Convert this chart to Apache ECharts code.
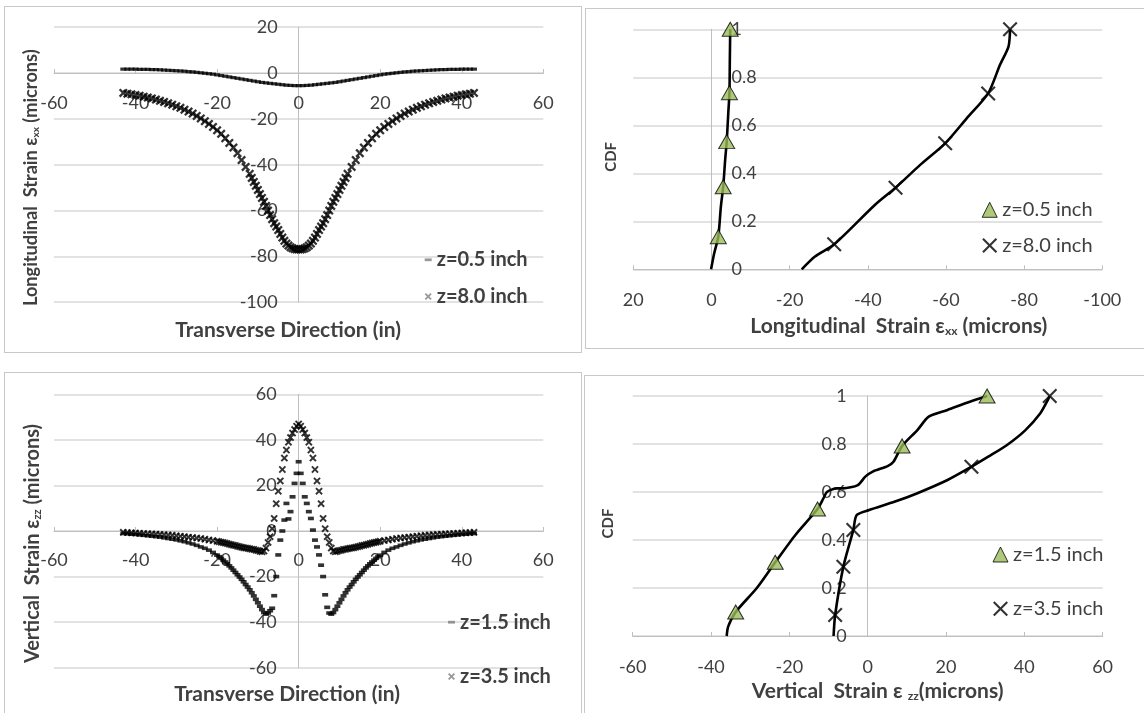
<!DOCTYPE html>
<html><head><meta charset="utf-8">
<script src="https://cdn.jsdelivr.net/npm/echarts@6/dist/echarts.min.js"></script>
<style>
html,body{margin:0;padding:0;background:#fff;}
body{width:1144px;height:713px;position:relative;overflow:hidden;}
.p{position:absolute;}
.b{position:absolute;border:1px solid #c8c8c8;box-sizing:border-box;pointer-events:none;}
</style></head><body>
<div class="p" id="tl" style="left:4px;top:6px;width:578px;height:347px"></div>
<div class="b" style="left:4px;top:6px;width:578px;height:347px"></div>
<div class="p" id="tr" style="left:585px;top:8px;width:559px;height:341px"></div>
<div class="b" style="left:585px;top:8px;width:600px;height:341px"></div>
<div class="p" id="bl" style="left:4px;top:372px;width:578px;height:341px"></div>
<div class="b" style="left:4px;top:372px;width:578px;height:400px"></div>
<div class="p" id="br" style="left:584px;top:375px;width:560px;height:338px"></div>
<div class="b" style="left:584px;top:375px;width:600px;height:400px"></div>
<script>
// ---------------- DATA ----------------
// Top-left: longitudinal strain vs transverse position
const tlX05 = [-43,-42,-41,-40,-39,-38,-37,-36,-35,-34,-33,-32,-31,-30,-29,-28,-27,-26,-25,-24,-23,-22,-21,-20,-19,-18,-17,-16,-15,-14,-13,-12,-11,-10,-9,-8,-7,-6,-5,-4,-3,-2,-1,0,1,2,3,4,5,6,7,8,9,10,11,12,13,14,15,16,17,18,19,20,21,22,23,24,25,26,27,28,29,30,31,32,33,34,35,36,37,38,39,40,41,42,43];
const tlZ05 = [1.7,1.7,1.7,1.7,1.6,1.6,1.6,1.5,1.5,1.4,1.3,1.2,1.1,1.0,0.9,0.8,0.6,0.5,0.3,0.1,-0.1,-0.3,-0.5,-0.8,-1.1,-1.4,-1.7,-2.0,-2.3,-2.6,-2.9,-3.2,-3.5,-3.8,-4.1,-4.3,-4.5,-4.7,-4.9,-5.1,-5.3,-5.4,-5.5,
  -5.5,
  -5.5,-5.4,-5.3,-5.1,-4.9,-4.7,-4.5,-4.3,-4.1,-3.8,-3.5,-3.2,-2.9,-2.6,-2.3,-2.0,-1.7,-1.4,-1.1,-0.8,-0.5,-0.3,-0.1,0.1,0.3,0.5,0.6,0.8,0.9,1.0,1.1,1.2,1.3,1.4,1.5,1.5,1.6,1.6,1.6,1.7,1.7,1.7,1.7];
const tlX80 = [-43,-42,-41,-40,-39,-38,-37,-36,-35,-34,-33,-32,-31,-30,-29,-28,-27,-26,-25,-24,-23,-22,-21,-20,-19,-18,-17,-16,-15,-14,-13,
  -12,-11.5,-11,-10.5,-10,-9.5,-9,-8.5,-8,-7.5,-7,-6.5,-6,-5.5,-5,-4.5,-4,-3.5,-3,-2.5,-2,-1.5,-1,-0.5,0,0.5,1,1.5,2,2.5,3,3.5,4,4.5,5,5.5,6,6.5,7,7.5,8,8.5,9,9.5,10,10.5,11,11.5,12,
  13,14,15,16,17,18,19,20,21,22,23,24,25,26,27,28,29,30,31,32,33,34,35,36,37,38,39,40,41,42,43];
const tlZ80 = [-8.7,-9.0,-9.3,-9.6,-9.9,-10.3,-10.7,-11.1,-11.6,-12.1,-12.6,-13.2,-13.8,-14.5,-15.2,-16.0,-16.8,-17.7,-18.7,-19.8,-21.0,-22.2,-23.5,-25.0,-26.5,-28.5,-30.5,-32.5,-35.0,-38.0,-41.0,
  -44,-45.8,-47.5,-49.2,-51,-52.8,-54.5,-56.2,-58,-60,-62,-63.8,-65.5,-67,-68.5,-70.2,-71.8,-73.2,-74.4,-75.3,-76,-76.5,-76.8,-77,
  -77,
  -77,-76.8,-76.5,-76,-75.3,-74.4,-73.2,-71.8,-70.2,-68.5,-67,-65.5,-63.8,-62,-60,-58,-56.2,-54.5,-52.8,-51,-49.2,-47.5,-45.8,-44,
  -41.0,-38.0,-35.0,-32.5,-30.5,-28.5,-26.5,-25.0,-23.5,-22.2,-21.0,-19.8,-18.7,-17.7,-16.8,-16.0,-15.2,-14.5,-13.8,-13.2,-12.6,-12.1,-11.6,-11.1,-10.7,-10.3,-9.9,-9.6,-9.3,-9.0,-8.7];

// Bottom-left: vertical strain vs transverse position
const blX = [-43,-42,-41,-40,-39,-38,-37,-36,-35,-34,-33,-32,-31,-30,-29,-28,-27,-26,-25,-24,-23,-22,-21,
  -20,-19.5,-19,-18.5,-18,-17.5,-17,-16.5,-16,-15.5,-15,-14.5,-14,-13.5,-13,-12.5,-12,-11.5,-11,-10.5,
  -10,-9.5,-9,-8.5,-8,-7.5,-7,-6.5,-6,-5.5,-5,-4.5,-4,-3.5,-3,-2.5,-2,-1.5,-1,-0.5,0,0.5,1,1.5,2,2.5,3,3.5,4,4.5,5,5.5,6,6.5,7,7.5,8,8.5,9,9.5,10,
  10.5,11,11.5,12,12.5,13,13.5,14,14.5,15,15.5,16,16.5,17,17.5,18,18.5,19,19.5,20,
  21,22,23,24,25,26,27,28,29,30,31,32,33,34,35,36,37,38,39,40,41,42,43];
const blZ15 = [-1.1,-1.2,-1.4,-1.5,-1.7,-1.9,-2.1,-2.3,-2.5,-2.7,-3.0,-3.3,-3.6,-3.9,-4.3,-4.7,-5.2,-5.7,-6.3,-7.0,-7.6,-8.4,-9.4,
  -10.6,-11.3,-12.0,-12.8,-13.6,-14.4,-15.3,-16.2,-17.2,-18.2,-19.2,-20.2,-21.2,-22.3,-23.5,-24.6,-25.8,-27.1,-28.5,-30,
  -31.5,-33,-34.5,-35.8,-36.5,-36,-35,-33.9,-28.4,-20,-10.5,-4,0,4.8,12.1,5.3,8.5,15,20.9,25.3,
  30.4,
  25.3,20.9,15,12.1,8.5,5.5,0.4,-4,-7,-10.5,-15,-20,-28,-33.5,-36,-36.5,-35.8,-34.5,-33,-31.5,
  -30,-28.5,-27.1,-25.8,-24.6,-23.5,-22.3,-21.2,-20.2,-19.2,-18.2,-17.2,-16.2,-15.3,-14.4,-13.6,-12.8,-12.0,-11.3,-10.6,
  -9.4,-8.4,-7.6,-7.0,-6.3,-5.7,-5.2,-4.7,-4.3,-3.9,-3.6,-3.3,-3.0,-2.7,-2.5,-2.3,-2.1,-1.9,-1.7,-1.5,-1.4,-1.2,-1.1];
const blZ35 = [-0.6,-0.7,-0.8,-0.9,-1.0,-1.1,-1.2,-1.3,-1.4,-1.5,-1.6,-1.8,-1.9,-2.1,-2.3,-2.5,-2.7,-2.9,-3.1,-3.3,-3.6,-3.9,-4.2,
  -4.5,-4.7,-4.9,-5.1,-5.3,-5.5,-5.8,-6.0,-6.2,-6.4,-6.7,-6.9,-7.1,-7.3,-7.5,-7.6,-7.8,-8.0,-8.1,-8.4,
  -8.6,-8.9,-9.1,-8.8,-7.5,-5,-2.5,1,5.5,12,17.5,22,27,32,35.5,39,41,43,44.5,46,
  47,
  46,44.5,43,41,39,35.5,32,27,22,17.5,12,5.5,1,-2.5,-5,-7.5,-8.8,-9.1,-8.9,-8.6,
  -8.4,-8.1,-8.0,-7.8,-7.6,-7.5,-7.3,-7.1,-6.9,-6.7,-6.4,-6.2,-6.0,-5.8,-5.5,-5.3,-5.1,-4.9,-4.7,-4.5,
  -4.2,-3.9,-3.6,-3.3,-3.1,-2.9,-2.7,-2.5,-2.3,-2.1,-1.9,-1.8,-1.6,-1.5,-1.4,-1.3,-1.2,-1.1,-1.0,-0.9,-0.8,-0.7,-0.6];

// Top-right: CDF of longitudinal strain
const trX05 = [0.1,-0.7,-1.75,-2.4,-3.0,-3.5,-3.9,-4.3,-4.6,-4.7,-4.8];
const trC05 = [0,0.067,0.136,0.26,0.344,0.455,0.532,0.65,0.736,0.872,1.0];
const trX05m = [-1.75,-3.0,-3.9,-4.6,-4.8];
const trC05m = [0.136,0.344,0.532,0.736,1.0];
const trX80 = [-23.1,-26.5,-31.4,-41.8,-47.1,-53.4,-59.8,-65.3,-70.8,-73.8,-76,-76.4];
const trC80 = [0,0.053,0.104,0.268,0.34,0.435,0.525,0.629,0.733,0.851,0.928,1.0];
const trX80m = [-31.4,-47.1,-59.8,-70.8,-76.4];
const trC80m = [0.104,0.34,0.525,0.733,1.0];

// Bottom-right: CDF of vertical strain
const brX15 = [-36,-35.6,-33.7,-28.3,-23.6,-18.5,-12.8,-11.3,-10.4,-7.9,-6.3,-2.5,-0.6,1.3,5.1,6.6,8.8,12.7,15.6,20.4,26.1,30.5];
const brC15 = [0,0.04,0.1,0.2,0.307,0.42,0.529,0.573,0.6,0.615,0.615,0.629,0.664,0.685,0.708,0.726,0.792,0.858,0.914,0.942,0.976,1.0];
const brX15m = [-33.7,-23.6,-12.8,8.8,30.5];
const brC15m = [0.1,0.307,0.529,0.792,1.0];
const brX35 = [-8.7,-8.3,-6.2,-3.65,-2.8,0.4,7,12.7,20.4,26.5,30.8,35.6,40.3,44.1,46,46.5];
const brC35 = [0,0.0875,0.289,0.442,0.504,0.525,0.56,0.595,0.65,0.705,0.747,0.796,0.858,0.928,0.983,1.0];
const brX35m = [-8.3,-6.2,-3.65,26.5,46.5];
const brC35m = [0.0875,0.289,0.442,0.705,1.0];

// Names / labels
const nTL = ['z=0.5 inch','z=8.0 inch'];
const nBL = ['z=1.5 inch','z=3.5 inch'];
const xTitleLeft = 'Transverse Direction (in)';
const yTitleTL = 'Longitudinal  Strain ε{s|xx} (microns)';
const yTitleBL = 'Vertical  Strain ε{s|zz} (microns)';
const xTitleTR = 'Longitudinal  Strain ε{s|xx} (microns)';
const xTitleBR = 'Vertical  Strain ε {s|zz}(microns)';
const cdfTitle = 'CDF';

// ---------------- STYLE / BUILD ----------------
const FONT = 'Lato, "Open Sans", sans-serif';
const LBL = '#404040';
const pairs = (xs, ys) => xs.map((x, i) => [x, ys[i]]);
const X_THIN = 'path://M0,18 L18,0 L50,32 L82,0 L100,18 L68,50 L100,82 L82,100 L50,68 L18,100 L0,82 L32,50 Z';
const X_BIG = 'path://M0,10 L10,0 L50,40 L90,0 L100,10 L60,50 L100,90 L90,100 L50,60 L10,100 L0,90 L40,50 Z';
const DASH = 'path://M0,0 L10,0 L10,4 L0,4 Z';

// distance (px) from the axis' own edge of the grid to the value 0
const zeroShift = (len, min, max) => -len * (0 - min) / (max - min);

function axisBase(extra) {
  return Object.assign({
    type: 'value',
    nameMoveOverlap: false,
    axisLine: {show: true, onZero: false, lineStyle: {color: '#bfbfbf', width: 1}},
    axisTick: {show: false},
    axisLabel: {fontFamily: FONT, fontSize: 18, color: LBL},
    splitLine: {show: false},
    nameLocation: 'middle'
  }, extra);
}
function titleStyle(size, pad, extra) {
  return Object.assign({
    fontFamily: FONT, fontSize: size, fontWeight: 'bold', color: LBL, padding: pad, lineHeight: size + 4,
    rich: {s: {fontFamily: FONT, fontSize: Math.round(size * 0.55), fontWeight: 'bold', color: LBL, padding: [Math.round(size * 0.45), 0, 0, 0]}}
  }, extra || {});
}
const gridLines = {show: true, lineStyle: {color: '#d9d9d9', width: 1.5}};
const xTicks = {show: true, inside: true, length: 4, lineStyle: {color: '#bfbfbf'}};

function base() {
  return {animation: false, textStyle: {fontFamily: FONT}};
}

// Top-left
const gTL = {left: 50, top: 21.2, width: 489.3, height: 275};
const optTL = Object.assign(base(), {
  grid: Object.assign({containLabel: false, outerBoundsMode: 'none'}, gTL),
  xAxis: axisBase({min: -60, max: 60, interval: 20, axisTick: xTicks, offset: zeroShift(gTL.height, -100, 20),
    axisLabel: {fontFamily: FONT, fontSize: 18, color: LBL, margin: 21},
    name: xTitleLeft, nameGap: 245, nameTextStyle: titleStyle(21, [0, 21, 0, 0])}),
  yAxis: axisBase({min: -100, max: 20, interval: 20, splitLine: gridLines, offset: zeroShift(gTL.width, -60, 60),
    axisLabel: {fontFamily: FONT, fontSize: 18, color: LBL, margin: 21},
    name: yTitleTL, nameGap: 256, nameTextStyle: titleStyle(18.2, [0, 26, 0, 0])}),
  legend: {orient: 'vertical', left: 415.7, top: 238.8, itemWidth: 7, itemHeight: 7, itemGap: 16.7, selectedMode: false,
    textStyle: {fontFamily: FONT, fontSize: 20, fontWeight: 'bold', color: LBL, lineHeight: 20},
    data: [{name: nTL[0], icon: DASH, itemStyle: {color: '#7f7f7f'}}, {name: nTL[1], icon: X_THIN, itemStyle: {color: '#7f7f7f'}}]},
  series: [
    {name: nTL[0], type: 'scatter', z: 3, data: pairs(tlX05, tlZ05), symbol: 'rect', symbolSize: [6, 3.2], itemStyle: {color: '#000'}},
    {name: nTL[1], type: 'scatter', z: 2, data: pairs(tlX80, tlZ80), symbol: X_THIN, symbolSize: 9, itemStyle: {color: '#000'}}
  ]
});

// Bottom-left
const gBL = {left: 50, top: 22.3, width: 489.3, height: 273.4};
const optBL = Object.assign(base(), {
  grid: Object.assign({containLabel: false, outerBoundsMode: 'none'}, gBL),
  xAxis: axisBase({min: -60, max: 60, interval: 20, axisTick: xTicks, offset: zeroShift(gBL.height, -60, 60),
    axisLabel: {fontFamily: FONT, fontSize: 18, color: LBL, margin: 20},
    name: xTitleLeft, nameGap: 151, nameTextStyle: titleStyle(21, [0, 23, 0, 0])}),
  yAxis: axisBase({min: -60, max: 60, interval: 20, splitLine: gridLines, offset: zeroShift(gBL.width, -60, 60),
    axisLabel: {fontFamily: FONT, fontSize: 18, color: LBL, margin: 22},
    name: yTitleBL, nameGap: 254, nameTextStyle: titleStyle(20, [0, 25, 0, 0])}),
  legend: {orient: 'vertical', left: 439, top: 235.2, itemWidth: 7, itemHeight: 7, itemGap: 34.3, selectedMode: false,
    textStyle: {fontFamily: FONT, fontSize: 20, fontWeight: 'bold', color: LBL, lineHeight: 20},
    data: [{name: nBL[0], icon: DASH, itemStyle: {color: '#7f7f7f'}}, {name: nBL[1], icon: X_THIN, itemStyle: {color: '#7f7f7f'}}]},
  series: [
    {name: nBL[0], type: 'scatter', z: 3, data: pairs(blX, blZ15), symbol: 'rect', symbolSize: [6, 3.6], itemStyle: {color: '#000'}},
    {name: nBL[1], type: 'scatter', z: 2, data: pairs(blX, blZ35), symbol: X_THIN, symbolSize: 7.5, itemStyle: {color: '#000'}}
  ]
});

function cdfSeries(name, lx, ly, mx, my, marker) {
  const mk = marker === 'tri'
    ? {symbol: 'triangle', symbolSize: [16, 14], itemStyle: {color: '#9bbb59', borderColor: '#000', borderWidth: 1}}
    : {symbol: X_BIG, symbolSize: 15, itemStyle: {color: '#000'}};
  return [
    Object.assign({name: name, type: 'scatter', z: 4, data: pairs(mx, my)}, mk),
    {name: name, type: 'line', z: 3, data: pairs(lx, ly), symbol: 'none', smooth: 0.25, lineStyle: {color: '#000', width: 2.6}}
  ];
}
function cdfLegend(left, top, gap, names) {
  return {orient: 'vertical', left: left, top: top, itemWidth: 15, itemHeight: 15, itemGap: gap, selectedMode: false,
    textStyle: {fontFamily: FONT, fontSize: 20, color: LBL, lineHeight: 20},
    data: [{name: names[0], icon: 'triangle', itemStyle: {color: '#9bbb59', borderColor: '#000', borderWidth: 1}},
           {name: names[1], icon: X_BIG, itemStyle: {color: '#000', borderWidth: 0}}]};
}

// Top-right
const gTR = {left: 48.3, top: 21.3, width: 469, height: 240};
const optTR = Object.assign(base(), {
  grid: Object.assign({containLabel: false, outerBoundsMode: 'none'}, gTR),
  xAxis: axisBase({min: -100, max: 20, interval: 20, inverse: true, axisTick: xTicks,
    axisLabel: {fontFamily: FONT, fontSize: 18, color: LBL, margin: 21.7},
    name: xTitleTR, nameGap: 44.7, nameTextStyle: titleStyle(21, [0, 0, 0, 62])}),
  yAxis: axisBase({min: 0, max: 1, interval: 0.2, position: 'right', splitLine: gridLines, offset: zeroShift(gTR.width, -100, 20),
    axisLabel: {fontFamily: FONT, fontSize: 18, color: LBL, margin: 20},
    name: cdfTitle, nameGap: -109.5, nameTextStyle: titleStyle(15, [0, 15, 0, 0])}),
  legend: cdfLegend(391.7, 186.8, 15.7, nTL),
  series: [].concat(cdfSeries(nTL[0], trX05, trC05, trX05m, trC05m, 'tri'), cdfSeries(nTL[1], trX80, trC80, trX80m, trC80m, 'x'))
});

// Bottom-right
const gBR = {left: 48.7, top: 21, width: 469.9, height: 240};
const optBR = Object.assign(base(), {
  grid: Object.assign({containLabel: false, outerBoundsMode: 'none'}, gBR),
  xAxis: axisBase({min: -60, max: 60, interval: 20, axisTick: xTicks,
    axisLabel: {fontFamily: FONT, fontSize: 18, color: LBL, margin: 21.7},
    name: xTitleBR, nameGap: 43, nameTextStyle: titleStyle(21, [0, 0, 0, 20])}),
  yAxis: axisBase({min: 0, max: 1, interval: 0.2, position: 'left', splitLine: gridLines, offset: zeroShift(gBR.width, -60, 60),
    axisLabel: {fontFamily: FONT, fontSize: 18, color: LBL, margin: 21},
    name: cdfTitle, nameGap: 250.3, nameTextStyle: titleStyle(15, [0, 15, 0, 0])}),
  legend: cdfLegend(403.5, 164.5, 34.3, nBL),
  series: [].concat(cdfSeries(nBL[0], brX15, brC15, brX15m, brC15m, 'tri'), cdfSeries(nBL[1], brX35, brC35, brX35m, brC35m, 'x'))
});

echarts.init(document.getElementById('tl'), null, {renderer: 'canvas'}).setOption(optTL);
echarts.init(document.getElementById('bl'), null, {renderer: 'canvas'}).setOption(optBL);
echarts.init(document.getElementById('tr'), null, {renderer: 'canvas'}).setOption(optTR);
echarts.init(document.getElementById('br'), null, {renderer: 'canvas'}).setOption(optBR);
</script>
</body></html>
